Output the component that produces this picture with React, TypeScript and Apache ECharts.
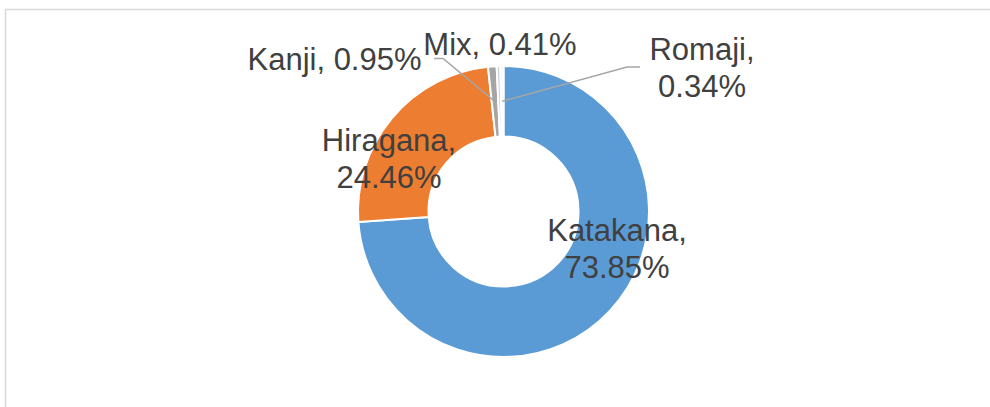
import React, { useEffect, useRef } from "react";
import * as echarts from "echarts";

// ---- data ----
const categories: string[] = ["Katakana", "Hiragana", "Kanji", "Mix", "Romaji"];
const shares: number[] = [73.85, 24.46, 0.95, 0.41, 0.34];
const twoLineLabel: boolean[] = [true, true, false, false, true];

// ---- styles / layout ----
const COLORS = ["#5b9bd5", "#ed7d31", "#a5a5a5", "#d0d0d0", "#f2f2f2"];
const CENTER: [number, number] = [503.5, 211.5];
const R_IN = 75;
const R_OUT = 145.5;
const FONT = 'Arial, "Liberation Sans", sans-serif';
const TEXT_COLOR = "#404040";
const LINE_COLOR = "#a6a6a6";
// label centres
const LABEL_POS: [number, number][] = [
  [617, 249],
  [389, 159],
  [334.5, 59],
  [500, 44],
  [702, 68],
];

function anchorPoint(idx: number): [number, number] {
  const total = shares.reduce((a, b) => a + b, 0);
  let before = 0;
  for (let i = 0; i < idx; i++) before += shares[i];
  const mid = (before + shares[idx] / 2) / total;
  const ang = mid * Math.PI * 2; // clockwise from top
  const r = (R_IN + R_OUT) / 2;
  return [CENTER[0] + r * Math.sin(ang), CENTER[1] - r * Math.cos(ang)];
}

export default function App() {
  const ref = useRef<HTMLDivElement>(null);
  useEffect(() => {
    if (!ref.current) return;
    const chart = echarts.init(ref.current, null, { renderer: "svg" });
    const kanjiA = anchorPoint(2);
    const romajiA = anchorPoint(4);
    chart.setOption({
      animation: false,
      backgroundColor: "#ffffff",
      graphic: [
        {
          type: "rect",
          shape: { x: 5.5, y: 9.5, width: 1100, height: 600 },
          style: { fill: "none", stroke: "#d9d9d9", lineWidth: 1.5 },
          silent: true,
        },
        {
          type: "polyline",
          shape: { points: [[434, 58.5], [443, 58.5], kanjiA] },
          style: { fill: "none", stroke: LINE_COLOR, lineWidth: 1.5 },
          z: 10,
        },
        {
          type: "polyline",
          shape: { points: [romajiA, [627, 67], [640, 67]] },
          style: { fill: "none", stroke: LINE_COLOR, lineWidth: 1.5 },
          z: 10,
        },
      ],
      series: [
        {
          type: "pie",
          center: CENTER,
          radius: [R_IN, R_OUT],
          startAngle: 90,
          clockwise: true,
          avoidLabelOverlap: false,
          itemStyle: { borderColor: "#ffffff", borderWidth: 2 },
          emphasis: { disabled: true },
          label: {
            show: true,
            position: "outside",
            fontFamily: FONT,
            fontSize: 31,
            lineHeight: 37,
            color: TEXT_COLOR,
            align: "center",
            formatter: (p: any) =>
              p.name +
              "," +
              (twoLineLabel[p.dataIndex] ? "\n" : " ") +
              Number(p.value).toFixed(2) +
              "%",
          },
          labelLine: { show: false },
          labelLayout: (p: any) => ({
            x: LABEL_POS[p.dataIndex][0],
            y: LABEL_POS[p.dataIndex][1],
            align: "center",
            verticalAlign: "middle",
          }),
          data: categories.map((name, i) => ({
            name,
            value: shares[i],
            itemStyle: { color: COLORS[i] },
          })),
        },
      ],
    });
    return () => chart.dispose();
  }, []);
  return (
    <div
      ref={ref}
      style={{ position: "fixed", left: 0, top: 0, width: 990, height: 407 }}
    />
  );
}
